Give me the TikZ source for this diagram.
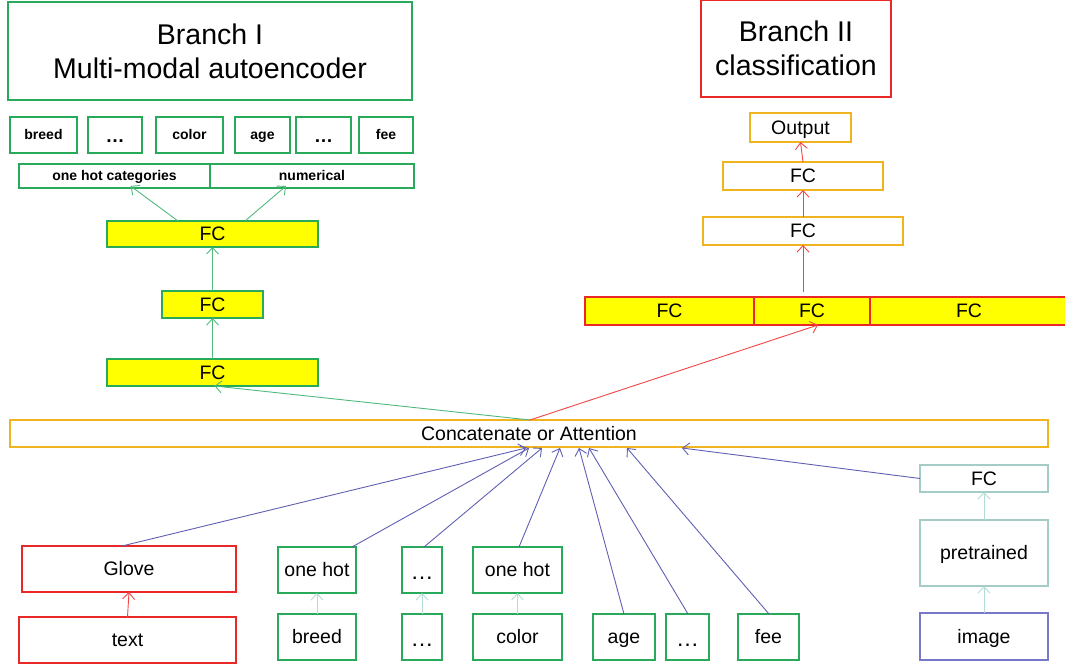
\documentclass[tikz,border=0pt]{standalone}
\usepackage{fontspec}
\setmainfont{Liberation Sans}
\usetikzlibrary{arrows.meta,calc}
\definecolor{cgreen}{RGB}{40,170,90}
\definecolor{cred}{RGB}{235,40,40}
\definecolor{corange}{RGB}{240,180,30}
\definecolor{cyellow}{RGB}{255,255,0}
\definecolor{cteal}{RGB}{165,205,200}
\definecolor{cpurple}{RGB}{120,120,200}
\definecolor{cblue}{RGB}{95,95,180}
\definecolor{clight}{RGB}{180,220,215}
\definecolor{cgarrow}{RGB}{80,185,125}
\definecolor{crarrow}{RGB}{240,70,70}
\newcommand\bx[7]{\node[#6, minimum width={#4-#2}, minimum height={#5-#3}] (#1) at ({(#2+#4)/2},{(#3+#5)/2}) {#7};}
\newcommand\mydots[1]{{\fontsize{#1}{#1}\selectfont …}}
\tikzset{
  x=1pt, y=-1pt,
  base/.style={rectangle, draw, line width=1.3pt, inner sep=0pt, outer sep=0pt, fill=white, font=\fontsize{19.5}{21}\selectfont, text height=14pt, text depth=0.3pt},
  gbox/.style={base, draw=cgreen},
  rbox/.style={base, draw=cred},
  obox/.style={base, draw=corange},
  tbox/.style={base, draw=cteal},
  pbox/.style={base, draw=cpurple},
  ygbox/.style={gbox, fill=cyellow},
  yrbox/.style={rbox, fill=cyellow},
  small/.style={font=\fontsize{14}{16}\selectfont\bfseries, text height=10pt, text depth=0.3pt},
  title/.style={align=center, font=\fontsize{28.5}{34}\selectfont, text height={}, text depth={}},
  tip/.style={-{Straight Barb[length=6.5pt,width=12pt,line width=0.9pt]}, line width=0.9pt},
  garrow/.style={tip, draw=cgarrow},
  rarrow/.style={tip, draw=crarrow},
  barrow/.style={tip, draw=cblue},
  larrow/.style={tip, draw=clight},
}
\begin{document}
\begin{tikzpicture}
\useasboundingbox (0,0) rectangle (1065,668);
% titles
\bx{b1}{8}{2}{412}{100}{gbox,title,line width=1.5pt}{Branch I\\Multi-modal autoencoder}
\bx{b2}{701}{0}{891}{97}{rbox,title,line width=1.5pt}{Branch II\\classification}
% top row
\bx{t1}{10}{117}{77}{153}{gbox,small}{breed}
\bx{t2}{88}{117}{142}{153}{gbox,small}{\raisebox{-0.35ex}{\bfseries\mydots{19}}}
\bx{t3}{156}{117}{223}{153}{gbox,small}{color}
\bx{t4}{235}{117}{290}{153}{gbox,small}{age}
\bx{t5}{296}{117}{351}{153}{gbox,small}{\raisebox{-0.35ex}{\bfseries\mydots{19}}}
\bx{t6}{359}{117}{413}{153}{gbox,small}{fee}
\bx{ohc}{19}{164}{210}{188}{gbox,small}{one hot categories}
\bx{num}{210}{164}{414}{188}{gbox,small}{numerical}
% branch I FCs
\bx{fc1}{107}{221}{318}{247}{ygbox}{FC}
\bx{fc2}{162}{291}{263}{318}{ygbox}{FC}
\bx{fc3}{107}{359}{318}{386}{ygbox}{FC}
% branch II
\bx{out}{750}{113}{851}{142}{obox}{Output}
\bx{fcb}{723}{162}{883}{190}{obox}{FC}
\bx{fca}{703}{217}{903}{245}{obox}{FC}
\bx{r1}{585}{297}{754}{325}{yrbox}{FC}
\bx{r2}{754}{297}{870}{325}{yrbox}{FC}
\bx{r3}{870}{297}{1068}{325}{yrbox}{FC}
% concat
\bx{cat}{10}{420}{1048}{447}{obox}{Concatenate or Attention}
% bottom
\bx{glove}{22}{546}{236}{592}{rbox}{Glove}
\bx{text}{19}{617}{236}{663}{rbox}{text}
\bx{oh1}{278}{547}{356}{593}{gbox}{one hot}
\bx{breed}{278}{614}{356}{660}{gbox}{breed}
\bx{d1}{402}{547}{442}{593}{gbox}{\raisebox{-0.3ex}{\mydots{23}}}
\bx{d2}{402}{614}{442}{660}{gbox}{\raisebox{-0.3ex}{\mydots{23}}}
\bx{oh2}{473}{547}{562}{593}{gbox}{one hot}
\bx{color}{473}{614}{562}{660}{gbox}{color}
\bx{age}{593}{614}{655}{660}{gbox}{age}
\bx{d3}{666}{614}{709}{660}{gbox}{\raisebox{-0.3ex}{\mydots{23}}}
\bx{fee}{738}{614}{799}{660}{gbox}{fee}
\bx{ifc}{920}{465}{1048}{492}{tbox}{FC}
\bx{pre}{920}{520}{1048}{586}{tbox}{pretrained}
\bx{img}{920}{613}{1048}{660}{pbox}{image}
% branch I arrows
\draw[garrow] ($(fc1.north west)+(71,0)$) -- ($(ohc.south)+(16,-2)$);
\draw[garrow] ($(fc1.north west)+(138,0)$) -- ($(num.south)+(-26,-2)$);
\draw[garrow] (fc2.north) -- (fc1.south);
\draw[garrow] (fc3.north) -- (fc2.south);
\draw[garrow] ($(cat.north west)+(520,0)$) -- ($(fc3.south)+(2,0)$);
% branch II arrows
\draw[rarrow] ($(cat.north west)+(520,0)$) -- ($(r2.south)+(6,0)$);
\draw[rarrow] ($(r2.north west)+(49,-5)$) -- (fca.south);
\draw[rarrow] (fca.north) -- (fcb.south);
\draw[rarrow] (fcb.north) -- (out.south);
% bottom arrows
\draw[rarrow] (text.north) -- (glove.south);
\draw[larrow] (breed.north) -- (oh1.south);
\draw[larrow] (d2.north) -- (d1.south);
\draw[larrow] (color.north) -- (oh2.south);
\draw[larrow] (img.north) -- (pre.south);
\draw[larrow] (pre.north) -- (ifc.south);
\draw[barrow] ($(glove.north)+(-7,0)$) -- ($(cat.south west)+(516,1)$);
\draw[barrow] ($(oh1.north east)+(-4,0)$) -- ($(cat.south west)+(519,1)$);
\draw[barrow] ($(d1.north west)+(22,0)$) -- ($(cat.south west)+(532,1)$);
\draw[barrow] ($(oh2.north west)+(46,0)$) -- ($(cat.south west)+(550,1)$);
\draw[barrow] ($(age.north west)+(31,0)$) -- ($(cat.south west)+(569,1)$);
\draw[barrow] ($(d3.north west)+(22,0)$) -- ($(cat.south west)+(579,1)$);
\draw[barrow] ($(fee.north west)+(31,0)$) -- ($(cat.south west)+(617,1)$);
\draw[barrow] (ifc.west) -- ($(cat.south west)+(672,1)$);
\end{tikzpicture}
\end{document}
